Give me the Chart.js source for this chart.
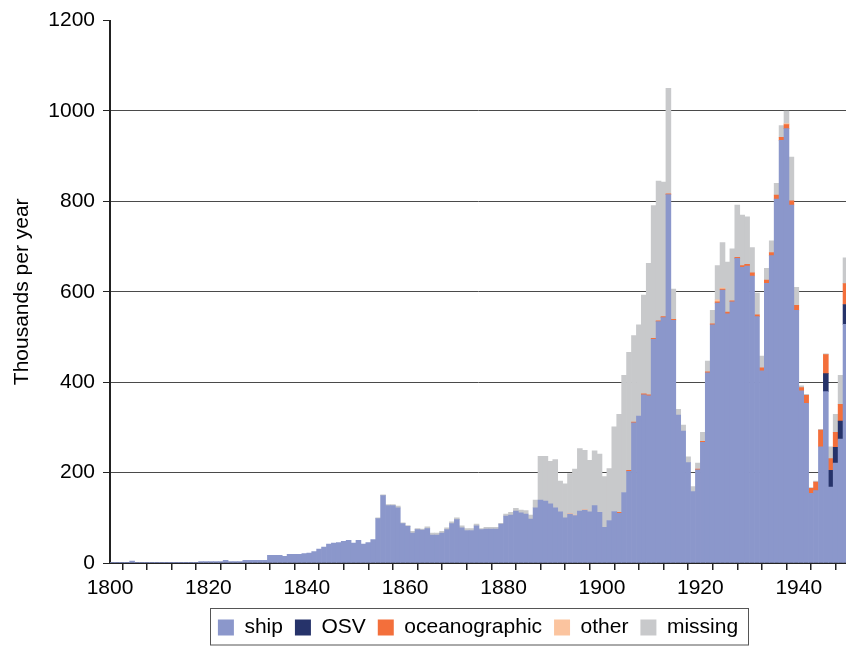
<!DOCTYPE html>
<html><head><meta charset="utf-8">
<script src="https://cdn.jsdelivr.net/npm/chart.js@4.4.1/dist/chart.umd.min.js"></script>
<style>html,body{margin:0;padding:0;background:#fff}canvas{display:block}</style>
</head><body>
<canvas id="c" width="846" height="646"></canvas>
<script>
// ---- data (thousands per year), one value per year starting 1800 ----
const firstYear = 1800;
const ship = [
  1,1,1,1,4,1,1,1,1,1,
  1,1,1,1,1,1,1,1,3,3,
  3,3,3,6,3,3,3,6,6,6,
  6,6,17,17,17,15,19,19,19,21,
  22,25,31,35,42,44,45,48,50,44,
  50,42,45,52,98,149,127,127,122,87,
  81,66,74,73,76,62,62,66,74,87,
  96,78,72,72,82,74,75,75,75,86,
  104,106,115,111,108,97,122,139,137,131,
  122,113,100,108,105,115,117,113,127,112,
  79,94,114,110,156,203,310,325,372,370,
  495,534,543,815,537,327,292,222,158,206,
  267,421,527,575,604,551,578,674,654,657,
  635,545,425,619,680,805,935,961,792,559,
  381,353,154,160,257,379,168,221,274,528
];
const osv = [
  0,0,0,0,0,0,0,0,0,0, 0,0,0,0,0,0,0,0,0,0,
  0,0,0,0,0,0,0,0,0,0, 0,0,0,0,0,0,0,0,0,0,
  0,0,0,0,0,0,0,0,0,0, 0,0,0,0,0,0,0,0,0,0,
  0,0,0,0,0,0,0,0,0,0, 0,0,0,0,0,0,0,0,0,0,
  0,0,0,0,0,0,0,0,0,0, 0,0,0,0,0,0,0,0,0,0,
  0,0,0,0,0,0,0,0,0,0, 0,0,0,0,0,0,0,0,0,0,
  0,0,0,0,0,0,0,0,0,0, 0,0,0,0,0,0,0,0,0,0,
  0,0,0,0,0,40,37,35,40,44
];
const oceanographic = [
  0,0,0,0,0,0,0,0,0,0, 0,0,0,0,0,0,0,0,0,0,
  0,0,0,0,0,0,0,0,0,0, 0,0,0,0,0,0,0,0,0,0,
  0,0,0,0,0,0,0,0,0,0, 0,0,0,0,0,0,0,0,0,0,
  0,0,0,0,0,0,0,0,0,0, 0,0,0,0,0,0,0,0,0,0,
  0,0,0,0,0,0,0,0,0,0, 0,0,0,0,0,0,0,0,0,0,
  0,0,0,2,0,2,2,0,2,2,
  2,2,2,2,2,0,0,0,0,2,
  2,2,2,3,2,4,2,2,4,4,
  7,4,7,7,7,9,7,9,9,11,
  7,18,11,19,37,42,26,33,37,46
];
const other = [
  0,0,0,0,0,0,0,0,0,0, 0,0,0,0,0,0,0,0,0,0,
  0,0,0,0,0,0,0,0,0,0, 0,0,0,0,0,0,0,0,0,0,
  0,0,0,0,0,0,0,0,0,0, 0,0,0,0,0,0,0,0,0,0,
  0,0,0,0,0,0,0,0,0,0, 0,0,0,0,0,0,0,0,0,0,
  0,0,0,0,0,0,0,0,0,0,
  0,0,0,2,1,0,2,0,0,0,
  0,0,0,0,0,0,0,0,0,0, 0,0,0,0,0,0,0,0,0,0,
  0,0,0,4,2,0,0,0,0,0,
  0,0,0,0,0,0,0,2,0,0,
  0,0,0,0,0,0,0,0,0,0
];
const missing = [
  0,0,0,0,0,0,0,0,0,0, 0,0,0,0,0,0,0,0,0,0,
  0,0,0,0,0,0,0,0,0,0, 0,0,0,0,0,0,0,0,0,0,
  0,0,0,0,0,0,0,0,0,0,
  0,0,0,0,2,2,2,2,4,2,
  2,4,2,2,4,4,4,4,4,4,
  4,4,4,4,4,2,4,4,4,2,
  4,6,6,6,8,9,17,97,99,94,
  107,68,75,88,102,138,130,114,121,129,
  112,115,187,217,259,261,191,202,219,291,
  294,309,298,233,67,13,13,13,11,13,
  20,24,30,76,101,111,115,116,112,105,
  56,48,26,26,26,26,26,28,97,40,
  4,2,2,2,2,2,26,40,64,57
];
const years = ship.map((_, i) => firstYear + i);
const xTickYears = [1800,1805,1810,1815,1820,1825,1830,1835,1840,1845,1850,1855,1860,1865,1870,1875,1880,1885,1890,1895,1900,1905,1910,1915,1920,1925,1930,1935,1940,1945];
const xTickLabels = ['1800','1820','1840','1860','1880','1900','1920','1940'];
const yTickValues = [0,200,400,600,800,1000,1200];
const seriesNames = ['ship','OSV','oceanographic','other','missing'];
const seriesValues = [ship, osv, oceanographic, other, missing];
const seriesColors = ['#8b97cb','#26336a','#f36f3b','#fbc49f','#c8c9cb'];

// ---- chart ----
const FONT = '"Liberation Sans", Arial, Helvetica, sans-serif';
Chart.defaults.font.family = FONT;
Chart.defaults.font.size = 21;
Chart.defaults.color = '#000';

const datasets = seriesNames.map((name, k) => ({
  label: name,
  data: years.map((y, i) => ({ x: y + 0.5, y: seriesValues[k][i] ? seriesValues[k][i] : null })),
  backgroundColor: seriesColors[k],
  borderWidth: 0,
  barPercentage: 1,
  categoryPercentage: 1
}));

const legendFrame = {
  id: 'legendFrame',
  afterInit(chart) {
    const lg = chart.legend;
    const orig = lg.fit;
    lg.fit = function () { orig.call(this); this.height = 41; };
  },
  afterDraw(chart) {
    const lg = chart.legend;
    const hb = lg.legendHitBoxes;
    if (!hb || !hb.length) return;
    const left = Math.min(...hb.map(h => h.left)) - 8;
    const right = Math.max(...hb.map(h => h.left + h.width)) + 10;
    const ctx = chart.ctx;
    ctx.save();
    ctx.strokeStyle = '#555';
    ctx.lineWidth = 1;
    ctx.strokeRect(Math.round(left) + 0.5, lg.top + 3.5, Math.round(right - left), lg.bottom - lg.top - 4.5);
    ctx.restore();
  }
};

new Chart(document.getElementById('c'), {
  type: 'bar',
  data: { datasets },
  plugins: [legendFrame],
  options: {
    responsive: false,
    devicePixelRatio: 1,
    animation: false,
    layout: { padding: { top: 17, right: 0, bottom: 0, left: 0 } },
    plugins: {
      tooltip: { enabled: false },
      legend: {
        position: 'bottom',
        fullSize: false,
        labels: { boxWidth: 16, boxHeight: 16, padding: 12, color: '#000', font: { size: 21 } }
      }
    },
    scales: {
      x: {
        type: 'linear',
        stacked: true,
        offset: false,
        min: 1800,
        max: 1949.6,
        z: 1,
        afterBuildTicks: s => { s.ticks = xTickYears.map(v => ({ value: v })); },
        afterFit: s => { s.height = 42; },
        ticks: {
          autoSkip: false, maxRotation: 0, padding: 6, color: '#000',
          callback: v => xTickLabels.includes(String(v)) ? String(v) : ''
        },
        grid: { display: true, drawOnChartArea: false, drawTicks: true, tickLength: 7, color: '#222', lineWidth: 1.5 },
        border: { display: true, color: '#222', width: 2 }
      },
      y: {
        stacked: true,
        min: 0,
        max: 1200,
        z: 1,
        afterBuildTicks: s => { s.ticks = yTickValues.map(v => ({ value: v })); },
        afterFit: s => { s.width = 110; },
        ticks: { padding: 8, color: '#000', callback: v => String(v) },
        grid: {
          drawTicks: true, tickLength: 7, lineWidth: 1,
          color: c => (c.tick && c.tick.value === 1200) ? 'rgba(0,0,0,0)' : '#4a4a4a',
          tickColor: '#222'
        },
        border: { display: true, color: '#222', width: 2 },
        title: { display: true, text: 'Thousands per year', color: '#000', font: { size: 21 }, padding: { top: 10, bottom: 0 } }
      }
    }
  }
});
</script>
</body></html>
